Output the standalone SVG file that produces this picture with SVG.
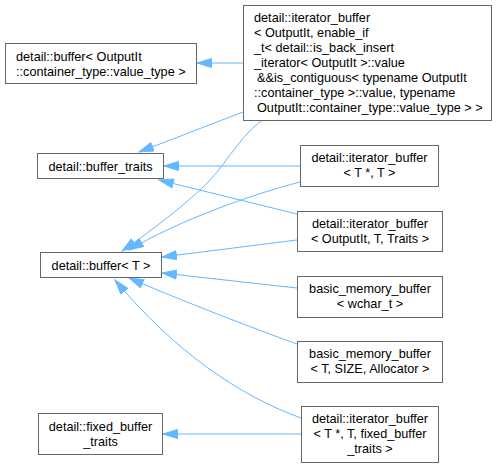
<svg xmlns="http://www.w3.org/2000/svg" width="500" height="467" viewBox="0 0 500 467">
<style>
.n rect{fill:#fff;stroke:#666;stroke-width:1}
.n text{font-family:"Liberation Sans",Arial,sans-serif;font-size:12.7px;fill:#000}
.c{text-anchor:middle}
.e path{fill:none;stroke:#63b8ff;stroke-width:1;marker-end:url(#ah)}
</style>
<defs>
<marker id="ah" markerUnits="userSpaceOnUse" markerWidth="16" markerHeight="11" refX="15" refY="5" orient="auto">
<path d="M0.5,0.5 L15,5 L0.5,9.5 z" fill="#63b8ff" stroke="#63b8ff" stroke-width="1"/>
</marker>
</defs>
<rect width="500" height="467" fill="#fff"/>
<g id="edges" class="e">
<path d="M243,63 L197,63"/>
<path d="M243,112 L139,152"/>
<path d="M261,121 C236,140 225,168 200,190 C178,210 155,228 122,251"/>
<path d="M300,166 L164,166"/>
<path d="M300,182 C250,195 180,220 129,250"/>
<path d="M297,214 L159,180"/>
<path d="M297,240 L162,257"/>
<path d="M297,288 L162,273"/>
<path d="M297,344 C250,327 185,302 129,278"/>
<path d="M301,418 C240,396 175,352 115,280"/>
<path d="M301,434 L163,434"/>
</g>
<g id="n_buffer_outputit" class="n">
<rect x="5.5" y="43.5" width="191" height="40"/>
<text x="16" y="61">detail::buffer&lt; OutputIt</text>
<text x="16" y="76">::container_type::value_type &gt;</text>
</g>
<g id="n_iter_big" class="n">
<rect x="243.5" y="5.5" width="248" height="115"/>
<text x="254" y="22">detail::iterator_buffer</text>
<text x="254" y="37">&lt; OutputIt, enable_if</text>
<text x="254" y="52">_t&lt; detail::is_back_insert</text>
<text x="254" y="67">_iterator&lt; OutputIt &gt;::value</text>
<text x="257" y="82">&amp;&amp;is_contiguous&lt; typename OutputIt</text>
<text x="254" y="97">::container_type &gt;::value, typename</text>
<text x="257" y="112">OutputIt::container_type::value_type &gt; &gt;</text>
</g>
<g id="n_buffer_traits" class="n">
<rect x="37.5" y="153.5" width="126" height="25"/>
<text class="c" x="100.5" y="170.5">detail::buffer_traits</text>
</g>
<g id="n_iter_tp" class="n">
<rect x="300.5" y="145.5" width="138" height="41"/>
<text class="c" x="369.5" y="162">detail::iterator_buffer</text>
<text class="c" x="369.5" y="177">&lt; T *, T &gt;</text>
</g>
<g id="n_iter_traits" class="n">
<rect x="297.5" y="211.5" width="145" height="40"/>
<text class="c" x="370" y="228">detail::iterator_buffer</text>
<text class="c" x="370" y="243">&lt; OutputIt, T, Traits &gt;</text>
</g>
<g id="n_buffer_t" class="n">
<rect x="40.5" y="252.5" width="121" height="25"/>
<text class="c" x="101" y="269.5">detail::buffer&lt; T &gt;</text>
</g>
<g id="n_bmb_wchar" class="n">
<rect x="297.5" y="276.5" width="145" height="41"/>
<text class="c" x="370" y="293">basic_memory_buffer</text>
<text class="c" x="370" y="308">&lt; wchar_t &gt;</text>
</g>
<g id="n_bmb_t" class="n">
<rect x="297.5" y="341.5" width="145" height="41"/>
<text class="c" x="370" y="358">basic_memory_buffer</text>
<text class="c" x="370" y="373">&lt; T, SIZE, Allocator &gt;</text>
</g>
<g id="n_fixed_traits" class="n">
<rect x="38.5" y="413.5" width="124" height="41"/>
<text class="c" x="100.5" y="430.5">detail::fixed_buffer</text>
<text class="c" x="100.5" y="445.5">_traits</text>
</g>
<g id="n_iter_fixed" class="n">
<rect x="301.5" y="406.5" width="137" height="56"/>
<text class="c" x="370" y="423">detail::iterator_buffer</text>
<text class="c" x="370" y="438">&lt; T *, T, fixed_buffer</text>
<text class="c" x="370" y="453">_traits &gt;</text>
</g>
</svg>
